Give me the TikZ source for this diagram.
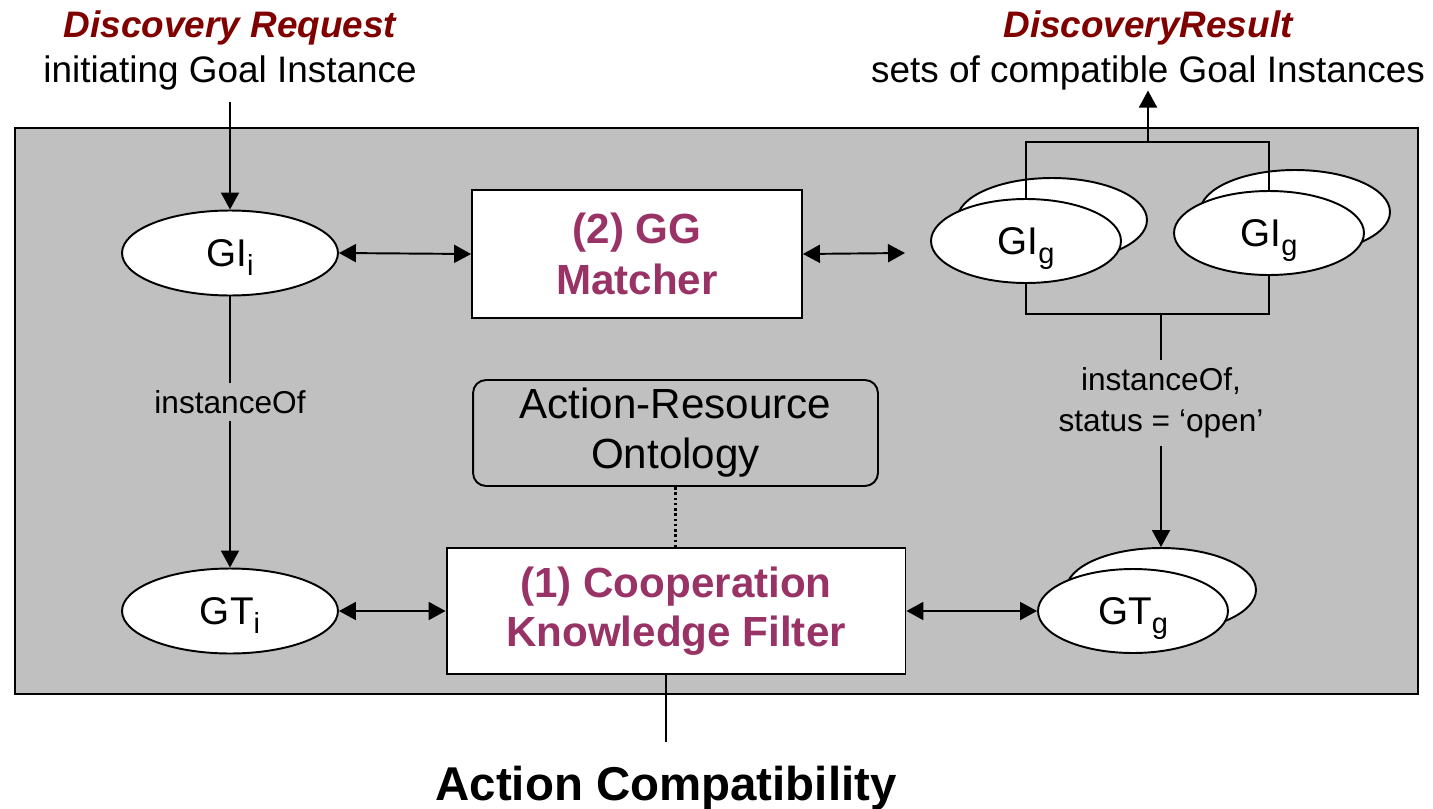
\documentclass[tikz,border=0pt]{standalone}
\usepackage{fontspec}
\setmainfont{Liberation Sans}
\usetikzlibrary{arrows.meta, positioning, shapes.geometric}
\definecolor{dred}{HTML}{800000}
\definecolor{cpurple}{HTML}{993366}
\definecolor{panelgray}{HTML}{C0C0C0}
\newcommand{\gsub}[1]{\raisebox{-5.5pt}[0pt][0pt]{\fontsize{16.5}{17}\selectfont #1}}
\tikzset{
  >={Triangle[length=3.4mm,width=3.6mm]},
  lnk/.style={line width=1.1pt},
  arr/.style={lnk, ->},
  darr/.style={lnk, <->},
  goal/.style={
    ellipse, draw, fill=white, line width=1.1pt, inner sep=0pt,
    minimum width=4.32cm, minimum height=1.7cm, font=\fontsize{22}{26}\selectfont
  },
  goalg/.style={goal, minimum width=3.8cm, minimum height=1.68cm},
  comp/.style={
    draw, fill=white, line width=1.1pt, align=center, text=cpurple,
    font=\fontsize{24}{29}\selectfont\bfseries
  },
  onto/.style={
    draw, line width=1.1pt, rounded corners=0.26cm, align=center,
    minimum width=8.1cm, minimum height=2.12cm, font=\fontsize{24}{28.5}\selectfont
  },
  rel/.style={align=center, inner xsep=2pt, inner ysep=0.15cm, font=\fontsize{18}{23}\selectfont},
  head/.style={align=center, inner sep=0pt, font=\fontsize{21}{25.6}\selectfont}
}

\begin{document}
\begin{tikzpicture}[x=0.02cm, y=-0.02cm]
  \useasboundingbox (0,0) rectangle (1433,808);
  \draw[lnk, fill=panelgray] (15,128) rectangle (1418,694);

  % request side
  \node[head] (req) at (230,50.5) {\textcolor{dred}{\bfseries\itshape Discovery Request}\\initiating Goal Instance};
  \node[goal] (gii) at (230,253) {GI\gsub{i}};
  \node[goal] (gti) at (230,611) {GT\gsub{i}};
  \node[rel] (io1) at (230,402) {instanceOf};

  % components
  \node[comp, minimum width=6.6cm, minimum height=2.56cm] (gg) at (637,254) {(2) GG\\Matcher};
  \node[comp, minimum width=9.18cm, minimum height=2.52cm, font=\fontsize{24}{28}\selectfont\bfseries] (ckf) at (676,611) {(1) Cooperation\\Knowledge Filter};
  \node[onto] (aro) at (675.5,433) {Action-Resource\\Ontology};
  \node[font=\fontsize{27}{30}\selectfont\bfseries, inner sep=0pt, anchor=base] (ttl) at (666,800) {Action Compatibility};

  % result side
  \node[head] (res) at (1148,50.5) {\textcolor{dred}{\bfseries\itshape DiscoveryResult}\\sets of compatible Goal Instances};
  \node[goalg] (gig1b) at (1052,220) {};
  \node[goalg] (gig1) at (1026,241) {GI\gsub{g}};
  \node[goalg] (gig2b) at (1295,212) {};
  \node[goalg] (gig2) at (1269,233) {GI\gsub{g}};
  \node[goalg] (gtgb) at (1161,590) {};
  \node[goalg] (gtg) at (1133,611) {GT\gsub{g}};
  \node[rel] (io2) at (1161,403) {instanceOf,\\status = ‘open’};
  \coordinate (tj) at (1148,142);
  \coordinate (bj) at (1161,314);
  \coordinate (ggend) at (905,253);

  % connectors
  \draw[arr, shorten <=0.22cm] (req.south) -- (gii.north);
  \draw[lnk] (gii.south) -- (io1.north);
  \draw[arr] (io1.south) -- (gti.north);
  \draw[darr] (gii.east) -- (gg.west);
  \draw[darr] (gg.east) -- (ggend);
  \draw[darr] (gti.east) -- (ckf.west);
  \draw[darr] (ckf.east) -- (gtg.west);
  \draw[line width=1.5pt, dash pattern=on 1.5pt off 1.5pt] (aro.south) -- (aro.south |- ckf.north);
  \draw[lnk, shorten >=0.46cm] (ckf.south -| ttl.north) -- (ttl.north);
  \draw[lnk] (gig1.north) |- (tj) -| (gig2.north);
  \draw[arr] (tj) -- (res.south);
  \draw[lnk] (gig1.south) |- (bj) -| (gig2.south);
  \draw[lnk] (bj) -- (io2.north);
  \draw[arr] (io2.south) -- (gtgb.north);
\end{tikzpicture}
\end{document}
